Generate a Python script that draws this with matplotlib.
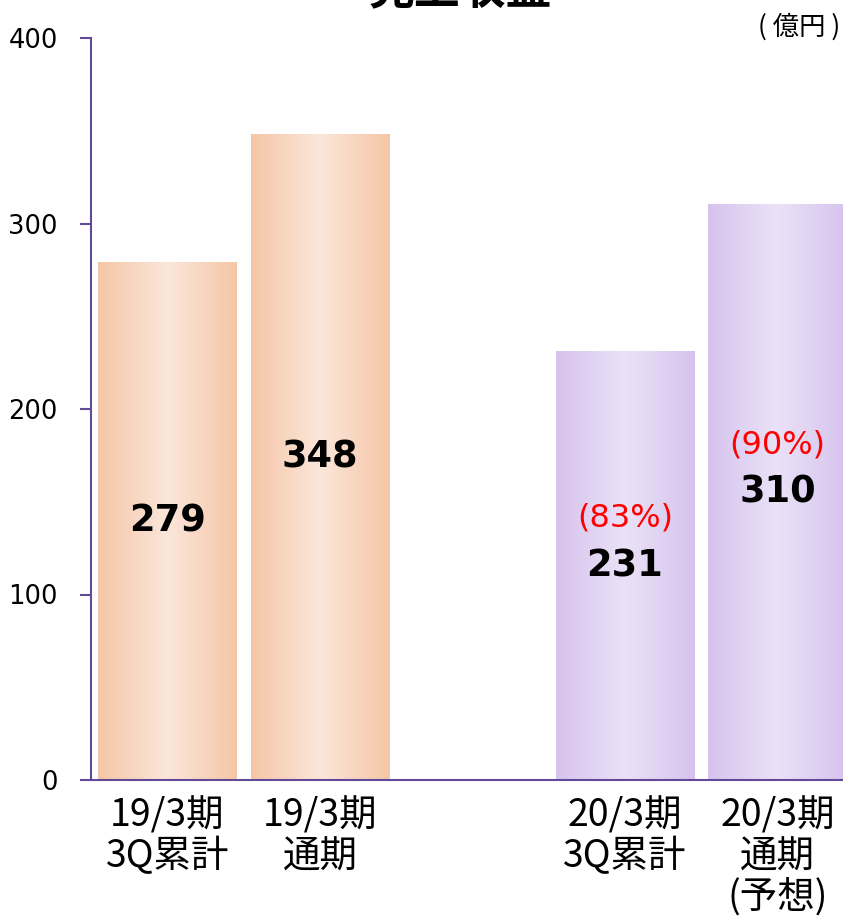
import numpy as np
import matplotlib
matplotlib.use('Agg')
import matplotlib.pyplot as plt
from matplotlib.colors import LinearSegmentedColormap

categories = ['19/3期\n3Q累計', '19/3期\n通期', '20/3期\n3Q累計', '20/3期\n通期\n(予想)']
values = [279, 348, 231, 310]
progress = [None, None, '(83%)', '(90%)']
yticks = [0, 100, 200, 300, 400]

cjk = ['Noto Sans CJK JP', 'DejaVu Sans']
axis_color = '#62499A'

peach = LinearSegmentedColormap.from_list('peach', ['#F5C6A6', '#FBE6DB', '#F5C6A6'])
lilac = LinearSegmentedColormap.from_list('lilac', ['#D7C3EE', '#EAE2F7', '#D7C3EE'])
cmaps = [peach, peach, lilac, lilac]

fig = plt.figure(figsize=(8.43, 9.17), dpi=100)
ax = fig.add_axes([91 / 843, 137 / 917, 752 / 843, 742 / 917])

x = np.array([0, 1, 3, 4])
w = 0.91
grad = np.linspace(0, 1, 256).reshape(1, -1)
for xi, v, cm in zip(x, values, cmaps):
    ax.imshow(grad, cmap=cm, aspect='auto', extent=[xi - w / 2, xi + w / 2, 0, v],
              zorder=1, interpolation='bilinear')

for xi, v, p in zip(x, values, progress):
    ax.text(xi, v / 2, str(v), ha='center', va='center', fontsize=26.5,
            fontweight='bold', family='DejaVu Sans', color='black', zorder=3)
    if p is not None:
        ax.text(xi, v / 2 + 25.5, p, ha='center', va='center', fontsize=23,
                family='DejaVu Sans', color='#FF0000', zorder=3)

ax.set_xlim(-0.502, 4.43)
ax.set_ylim(0, 400)
ax.set_yticks(yticks)
ax.set_yticklabels([str(t) for t in yticks], fontsize=18.5, family='DejaVu Sans')
ax.set_xticks(x)
ax.set_xticklabels(categories, fontsize=27, family=cjk, linespacing=1.05, va='top')
ax.tick_params(axis='x', length=0, pad=12)
ax.tick_params(axis='y', length=8, width=1.5, color=axis_color, pad=16)

for s in ['top', 'right']:
    ax.spines[s].set_visible(False)
for s in ['left', 'bottom']:
    ax.spines[s].set_color(axis_color)
    ax.spines[s].set_linewidth(1.5)
    ax.spines[s].set_zorder(4)

fig.text(460 / 843, 1 - 14 / 917, '売上収益', ha='center', va='bottom', fontsize=33,
         fontweight='bold', family=cjk)
fig.text(840 / 843, 1 - 27 / 917, '( 億円 )', ha='right', va='center', fontsize=19, family=cjk)

fig.savefig('out.png', dpi=100)
